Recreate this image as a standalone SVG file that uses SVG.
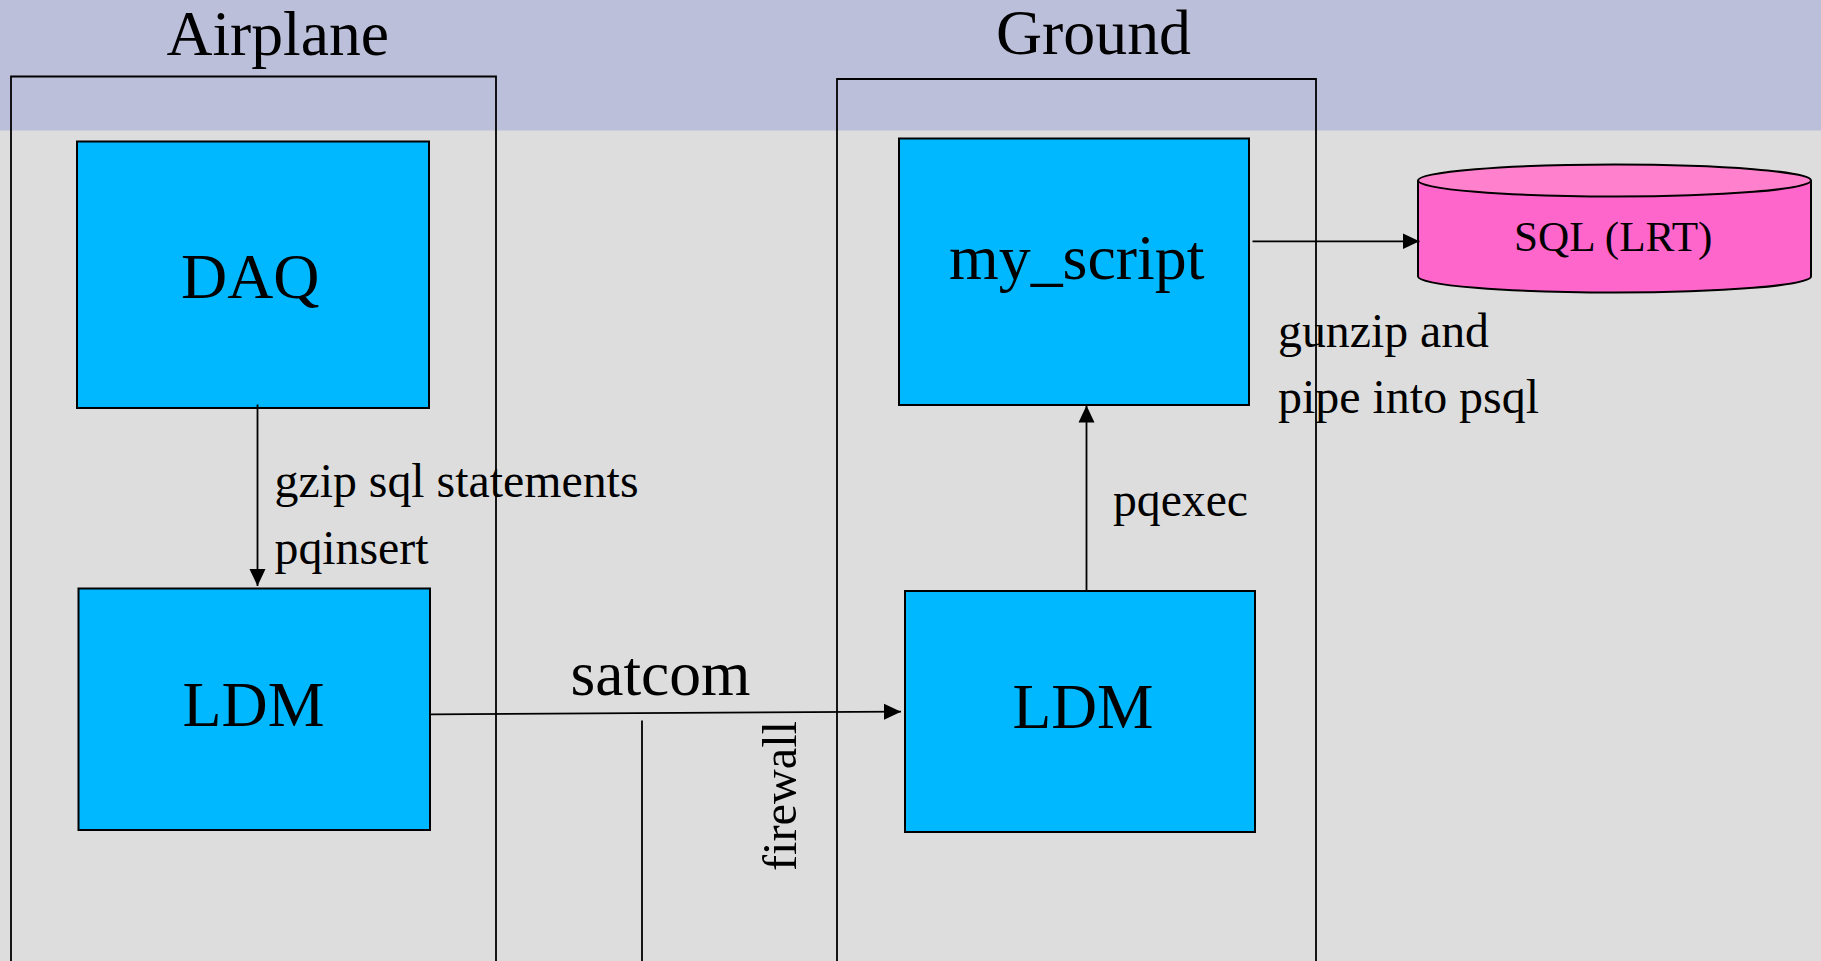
<svg xmlns="http://www.w3.org/2000/svg" width="1821" height="961" viewBox="0 0 1821 961">
<style>
text{font-family:"Liberation Serif","Times New Roman",serif;fill:#000}
.xl{font-size:64px}
.lg{font-size:48px}
.md{font-size:42px}
.frame{fill:none;stroke:#000;stroke-width:1.8}
.box{fill:#00b8ff;stroke:#000;stroke-width:2}
.cyl{fill:#ff66cc;stroke:#000;stroke-width:2}
.cyltop{fill:#ff80cc;stroke:#000;stroke-width:2}
.conn{fill:none;stroke:#000;stroke-width:1.8}
</style>
<defs>
<marker id="arrow" markerUnits="userSpaceOnUse" markerWidth="17" markerHeight="17" viewBox="0 0 17 17" refX="17" refY="8.5" orient="auto"><path d="M0 0.5L17 8.5L0 16.5Z" fill="#000"/></marker>
</defs>
<rect id="background" width="1821" height="961" fill="#dddddd"/>
<rect id="band" width="1821" height="130.500" fill="#bbbfda"/>
<g id="airplane-frame">
<path class="frame" d="M11 961V76.5H496V961"/>
<text class="xl" x="166.500" y="55" textLength="222.500" lengthAdjust="spacingAndGlyphs">Airplane</text>
</g>
<g id="ground-frame">
<path class="frame" d="M837 961V79H1316V961"/>
<text class="xl" x="996" y="54" textLength="195" lengthAdjust="spacingAndGlyphs">Ground</text>
</g>
<g id="daq">
<rect class="box" x="77" y="141.500" width="352" height="266.500"/>
<text class="xl" x="181" y="298" textLength="138.500" lengthAdjust="spacingAndGlyphs">DAQ</text>
</g>
<g id="ldm-airplane">
<rect class="box" x="78.500" y="588.500" width="351.500" height="241.500"/>
<text class="xl" x="182.500" y="725.500" textLength="142" lengthAdjust="spacingAndGlyphs">LDM</text>
</g>
<g id="my-script">
<rect class="box" x="899" y="138.500" width="350" height="266.500"/>
<text class="xl" x="949" y="279" textLength="255.500" lengthAdjust="spacingAndGlyphs">my_script</text>
</g>
<g id="ldm-ground">
<rect class="box" x="905" y="591" width="350" height="241"/>
<text class="xl" x="1012.500" y="728" textLength="141" lengthAdjust="spacingAndGlyphs">LDM</text>
</g>
<g id="sql-lrt">
<path class="cyl" d="M1418 181V276.500A196.500 16 0 0 0 1811 276.500V181Z"/>
<ellipse class="cyltop" cx="1614.500" cy="180.500" rx="196.500" ry="16"/>
<text class="md" x="1514" y="251" textLength="198.500" lengthAdjust="spacingAndGlyphs">SQL (LRT)</text>
</g>
<g id="connectors">
<path class="conn" d="M257.500 404.500V586" marker-end="url(#arrow)"/>
<path class="conn" d="M431 714.300L901 711.700" marker-end="url(#arrow)"/>
<path class="conn" d="M1086.500 590.700V405.500" marker-end="url(#arrow)"/>
<path class="conn" d="M1252.500 241.300H1419.500" marker-end="url(#arrow)"/>
<path class="conn" d="M642 720.500V961"/>
</g>
<g id="labels">
<text class="lg" x="274.500" y="497" textLength="364" lengthAdjust="spacingAndGlyphs">gzip sql statements</text>
<text class="lg" x="274.500" y="564" textLength="154" lengthAdjust="spacingAndGlyphs">pqinsert</text>
<text class="xl" x="570.500" y="695" textLength="180" lengthAdjust="spacingAndGlyphs">satcom</text>
<text class="lg" x="1113" y="515.500" textLength="135" lengthAdjust="spacingAndGlyphs">pqexec</text>
<text class="lg" x="1278" y="347" textLength="211" lengthAdjust="spacingAndGlyphs">gunzip and</text>
<text class="lg" x="1278" y="413" textLength="261" lengthAdjust="spacingAndGlyphs">pipe into psql</text>
<text transform="translate(796 871) rotate(-90)" class="lg" textLength="150" lengthAdjust="spacingAndGlyphs">firewall</text>
</g>
</svg>
